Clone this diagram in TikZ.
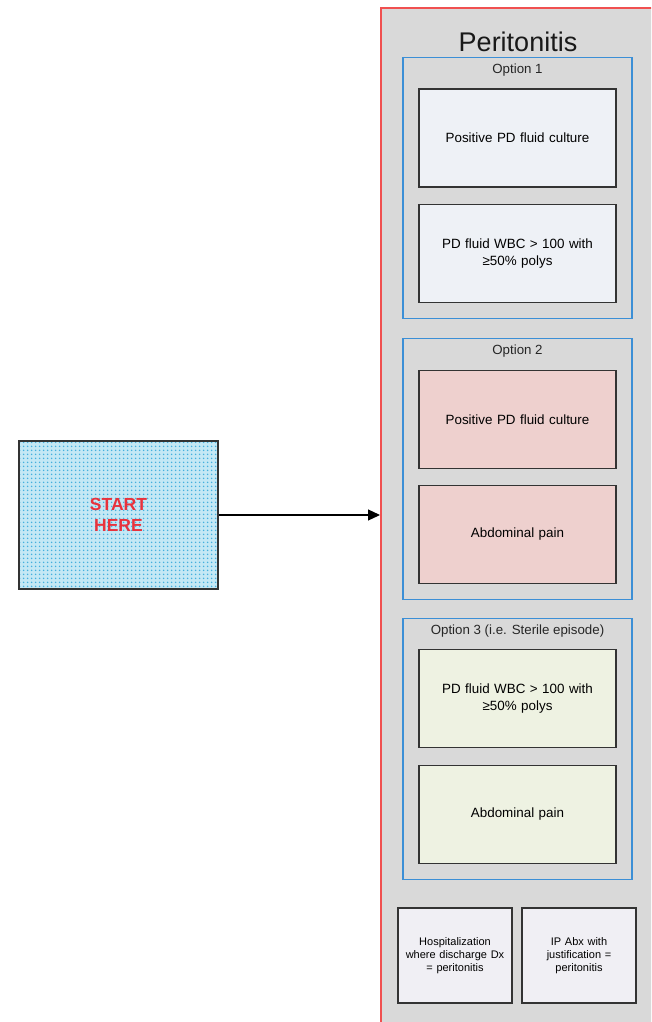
\documentclass[tikz,border=0pt]{standalone}
\usepackage{fontspec}
\setmainfont{Liberation Sans}
\usetikzlibrary{arrows.meta,patterns.meta,positioning}
\definecolor{panelgray}{HTML}{D9D9D9}
\definecolor{panelred}{HTML}{F05050}
\definecolor{optblue}{HTML}{3C8FD6}
\definecolor{edgegray}{HTML}{333333}
\definecolor{fillone}{HTML}{EEF1F6}
\definecolor{filltwo}{HTML}{EED0CE}
\definecolor{fillthree}{HTML}{EEF2E2}
\definecolor{fillfour}{HTML}{F0EFF4}
\definecolor{startblue}{HTML}{C4E8F5}
\definecolor{startdots}{HTML}{45B0DD}
\definecolor{startred}{HTML}{E8323C}
% fine dot screen for the entry box
\tikzdeclarepattern{
  name=startscreen, type=uncolored,
  bottom left={(-2pt,-2pt)}, top right={(2pt,2pt)},
  tile size={(4pt,4pt)},
  code={\fill (0pt,0pt) circle[radius=1pt];}
}
\tikzset{
  panelbox/.style={draw=panelred, line width=1.6pt, fill=panelgray, minimum width=330pt, minimum height=1060pt, inner sep=0pt},
  optframe/.style={draw=optblue, line width=1.2pt, minimum width=229pt, minimum height=261pt, inner sep=0pt},
  optlabel/.style={font=\fontsize{13.3}{15}\selectfont, text=black!85, anchor=north, inner sep=0pt},
  critbox/.style={draw=edgegray, line width=1.2pt, minimum width=197pt, minimum height=98pt, align=center, text width=185pt, font=\fontsize{13.4}{17}\selectfont, inner sep=0pt},
  smallbox/.style={draw=edgegray, line width=1.2pt, fill=fillfour, minimum width=114pt, minimum height=95pt, align=center, text width=112pt, font=\fontsize{11}{13}\selectfont, inner sep=0pt},
  startbox/.style={draw=edgegray, line width=1.1pt, minimum width=199pt, minimum height=148pt, align=center,
    preaction={fill=startblue}, pattern=startscreen, pattern color=startdots,
    font=\bfseries\fontsize{17.5}{21.5}\selectfont, text=startred},
  link/.style={line width=1.2pt, -{Triangle[length=12pt,width=11pt]}}
}
\begin{document}
\begin{tikzpicture}[x=1pt, y=-1pt]
\useasboundingbox (0,0) rectangle (651,1022);
\fill[white] (0,0) rectangle (651,1022);
\clip (0,0) rectangle (651,1022);

% container panel
\node[panelbox, anchor=north west] (panel) at (380,7) {};
\node[font=\fontsize{27}{30}\selectfont, text=black!90] (title) at (518,42) {Peritonitis};

% option 1
\node[optframe] (opt1) at (517.5,188) {};
\node[optlabel] (opt1lbl) at ([yshift=-7pt]opt1.north) {Option 1};
\node[critbox, fill=fillone] (c1a) at (517.5,138) {Positive PD fluid culture};
\node[critbox, fill=fillone] (c1b) at (517.5,253.5) {PD fluid WBC {>} 100 with\\≥50\% polys};

% option 2
\node[optframe] (opt2) at (517.5,469) {};
\node[optlabel] (opt2lbl) at ([yshift=-7pt]opt2.north) {Option 2};
\node[critbox, fill=filltwo] (c2a) at (517.5,419.5) {Positive PD fluid culture};
\node[critbox, fill=filltwo] (c2b) at (517.5,534.5) {Abdominal pain};

% option 3
\node[optframe] (opt3) at (517.5,749) {};
\node[optlabel] (opt3lbl) at ([yshift=-7pt]opt3.north) {Option 3 (i.e. Sterile episode)};
\node[critbox, fill=fillthree] (c3a) at (517.5,698.5) {PD fluid WBC {>} 100 with\\≥50\% polys};
\node[critbox, fill=fillthree] (c3b) at (517.5,814.5) {Abdominal pain};

% stand-alone criteria
\node[smallbox] (hosp) at (455,955.5) {Hospitalization\\where discharge Dx\\= peritonitis};
\node[smallbox] (ipabx) at (579,955.5) {IP Abx with\\justification =\\peritonitis};

% entry point
\node[startbox] (start) at (118.5,515) {START\\HERE};
\draw[link] (start.east) -- (start.east -| panel.west);
\end{tikzpicture}
\end{document}
